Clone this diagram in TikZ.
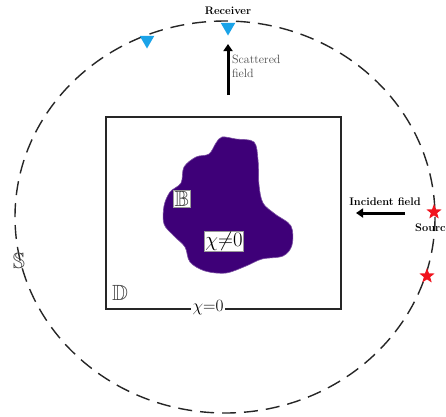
\documentclass[tikz,border=0pt]{standalone}
\usepackage{amssymb}
\usetikzlibrary{shapes.geometric,arrows.meta}
\definecolor{blobfill}{HTML}{3E0078}
\definecolor{rxblue}{HTML}{1AA3E8}
\definecolor{srcred}{HTML}{F0141E}
\tikzset{
  boundary/.style={draw=black!85, line width=1.4pt, dash pattern=on 14pt off 8pt},
  domainbox/.style={draw=black!85, line width=2pt},
  fieldarrow/.style={line width=3pt, -{Triangle[length=7pt,width=9pt]}},
  receiver/.style={regular polygon, regular polygon sides=3, shape border rotate=180,
    fill=rxblue, inner sep=0pt, minimum size=17pt},
  source/.style={star, star points=5, star point ratio=2.4, fill=srcred,
    inner sep=0pt, minimum size=16pt},
  smalllabel/.style={font=\fontsize{11}{12.5}\selectfont, inner sep=1pt},
  boldlabel/.style={font=\fontsize{11}{12.5}\selectfont\bfseries, inner sep=1pt},
  setlabel/.style={font=\fontsize{22}{24}\selectfont, text=black!75, inner sep=1pt},
  tag/.style={fill=white, draw=black!40, line width=0.4pt, inner sep=1pt},
}
\begin{document}
\begin{tikzpicture}[x=1pt,y=-1pt]
  \useasboundingbox (0,0) rectangle (446,416);
  \fill[white] (0,0) rectangle (446,416);

  % measurement surface S
  \draw[boundary] (225,217) ellipse [x radius=210, y radius=196];

  % investigation domain D
  \draw[domainbox] (106,117) rectangle (341,309);

  % scatterer B
  \fill[blobfill, draw=blobfill!70!white, line width=0.6pt]
    plot[smooth cycle, tension=0.55] coordinates {
      (222,137) (236,139) (254,142) (258,160) (259,185) (263,203)
      (275,214) (291,226) (292,245) (283,256) (262,259) (246,266)
      (226,273) (205,271) (190,262) (185,247) (174,236) (164,224)
      (164,206) (170,192) (181,183) (184,167) (196,157) (209,154)
      (216,143)};

  % labels
  \node[setlabel] (S) at (19,261) {$\mathbb{S}$};
  \node[setlabel] (D) at (120,293) {$\mathbb{D}$};
  \node[setlabel, tag] (B) at (182,199) {$\mathbb{B}$};
  \node[tag, font=\fontsize{20}{22}\selectfont] (chin) at (224,241) {$\chi{\neq}0$};
  \node[fill=white, inner sep=2pt, font=\fontsize{19}{21}\selectfont] (chiz) at (208,308) {$\chi{=}0$};

  % receivers
  \node[receiver] (r1) at (228,27) {};
  \node[receiver] (r2) at (147,40) {};
  \node[boldlabel] (rl) at (228,11) {Receiver};

  % sources
  \node[source] (s1) at (434,212) {};
  \node[source] (s2) at (427,276) {};
  \node[boldlabel, anchor=west] (sl) at (414,228) {Source};

  % scattered field
  \coordinate (scA) at (228,95);
  \coordinate (scB) at (228,44);
  \draw[fieldarrow] (scA) -- (scB);
  \node[smalllabel, anchor=north west, align=left, text=black!70,
        font=\fontsize{12}{14}\selectfont] (scl) at (231,54) {Scattered\\field};

  % incident field
  \coordinate (inA) at (405,213);
  \coordinate (inB) at (356,213);
  \draw[fieldarrow] (inA) -- (inB);
  \node[boldlabel] (inl) at (385,202) {Incident field};
\end{tikzpicture}
\end{document}
